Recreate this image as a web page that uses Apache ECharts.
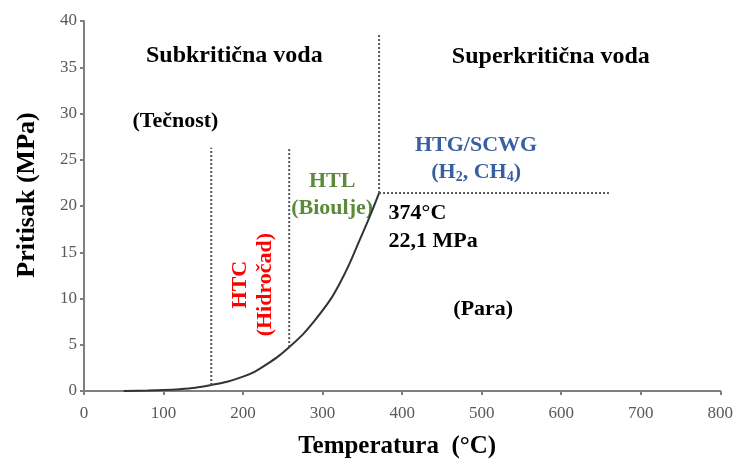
<!DOCTYPE html>
<html><head><meta charset="utf-8">
<script src="https://cdn.jsdelivr.net/npm/echarts@6/dist/echarts.min.js"></script>
<style>html,body{margin:0;padding:0;background:#fff}#c{width:736px;height:464px}</style>
</head><body><div id="c"></div>
<script>
// Saturation curve (temperature °C, pressure MPa)
const curveT = [50, 80, 100, 120, 140, 160, 180, 200, 215, 230, 245, 260, 275, 290, 310, 322, 334, 346, 359, 371];
const curveP = [0.01, 0.05, 0.1, 0.2, 0.36, 0.65, 1.0, 1.55, 2.1, 2.9, 3.8, 4.9, 6.1, 7.6, 9.9, 11.7, 13.8, 16.2, 18.8, 21.4];
// Dotted boundaries
const htcLine1 = [[160, 0.65], [160, 26.3]];
const htcLine2 = [[258, 4.75], [258, 26.3]];
const critVert = [[371, 21.4], [371, 38.5]];
const critHoriz = [[371, 21.4], [660, 21.4]];
// Annotations [x, y, text, colour, size, align, rotate]
const notes = [
  [189, 36.2, 'Subkritična voda', '#000', 24, 'center', 0],
  [587, 36.1, 'Superkritična voda', '#000', 24, 'center', 0],
  [115, 29.2, '(Tečnost)', '#000', 22, 'center', 0],
  [312, 22.7, 'HTL', '#5b8a3a', 22, 'center', 0],
  [312, 19.8, '(Bioulje)', '#5b8a3a', 22, 'center', 0],
  [493, 26.6, 'HTG/SCWG', '#3a5fa0', 22, 'center', 0],
  [493, 23.6, '(H{s|2}, CH{s|4})', '#3a5fa0', 22, 'center', 0],
  [383, 19.2, '374°C', '#000', 22, 'left', 0],
  [383, 16.2, '22,1 MPa', '#000', 22, 'left', 0],
  [197, 11.5, 'HTC', '#ff0000', 22, 'center', 90],
  [228, 11.5, '(Hidročad)', '#ff0000', 22, 'center', 90],
  [502, 8.8, '(Para)', '#000', 22, 'center', 0]
];
const xTicks = {min: 0, max: 800, interval: 100};
const yTicks = {min: 0, max: 40, interval: 5};

const font = 'Liberation Serif';
const chart = echarts.init(document.getElementById('c'));
const dotted = (d) => ({
  type: 'line', data: d, symbol: 'none', silent: true,
  lineStyle: {color: '#555', width: 2, type: [2, 2]}
});
chart.setOption({
  animation: false,
  grid: {left: 84, right: 14, top: 21, bottom: 73},
  xAxis: {
    type: 'value', min: xTicks.min, max: xTicks.max, interval: xTicks.interval,
    name: 'Temperatura  (°C)', nameLocation: 'middle', nameGap: 43,
    nameTextStyle: {fontFamily: font, fontWeight: 'bold', fontSize: 25, color: '#000', padding: [0, 10, 0, 0]},
    axisLine: {lineStyle: {color: '#7f7f7f', width: 2}},
    axisTick: {show: true, length: 4, lineStyle: {color: '#7f7f7f', width: 2}},
    axisLabel: {fontFamily: font, fontSize: 17, color: '#595959', margin: 14},
    splitLine: {show: false}
  },
  yAxis: {
    type: 'value', min: yTicks.min, max: yTicks.max, interval: yTicks.interval,
    name: 'Pritisak (MPa)', nameLocation: 'middle', nameGap: 44,
    nameTextStyle: {fontFamily: font, fontWeight: 'bold', fontSize: 26, color: '#000', padding: [0, 0, 0, 22]},
    axisLine: {show: true, lineStyle: {color: '#7f7f7f', width: 2}},
    axisTick: {show: true, length: 4, lineStyle: {color: '#7f7f7f', width: 2}},
    axisLabel: {fontFamily: font, fontSize: 17, color: '#595959', margin: 7},
    splitLine: {show: false}
  },
  series: [
    {
      type: 'line', smooth: 0.3, symbol: 'none', silent: true,
      data: curveT.map((t, i) => [t, curveP[i]]),
      lineStyle: {color: '#333', width: 2}
    },
    dotted(htcLine1), dotted(htcLine2), dotted(critVert), dotted(critHoriz),
    {
      type: 'scatter', symbolSize: 0, silent: true,
      itemStyle: {opacity: 1},
      data: notes.map(n => ({
        value: [n[0], n[1]],
        label: {
          show: true, position: 'inside', formatter: n[2], opacity: 1,
          color: n[3], fontSize: n[4], fontWeight: 'bold', fontFamily: font,
          align: n[5], verticalAlign: 'middle', rotate: n[6],
          rich: {s: {fontSize: 14, fontWeight: 'bold', fontFamily: font, color: n[3], padding: [10, 0, 0, 0]}}
        }
      }))
    }
  ]
});
</script></body></html>
